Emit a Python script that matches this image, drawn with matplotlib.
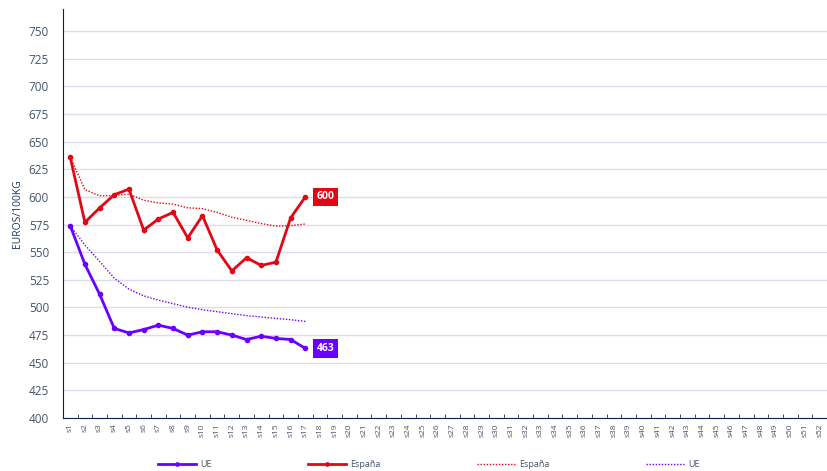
import numpy as np
import matplotlib
matplotlib.use("Agg")
import matplotlib.pyplot as plt

plt.rcParams["font.family"] = ["Open Sans", "DejaVu Sans"]

# weeks s1..s52
weeks = [f"s{i}" for i in range(1, 53)]

# weekly prices, EUR/100kg
ue = [574, 539, 512, 481, 477, 480, 484, 481, 475, 478, 478, 475, 471, 474, 472, 471, 463]
espana = [636, 577, 590, 602, 607, 570, 580, 586, 563, 583, 552, 533, 545, 538, 541, 581, 600]

# running average curves (dotted)
espana_avg = [636, 606.5, 601, 601.3, 602.4, 597, 594.6, 593.5, 590.1, 589.4, 586, 581.6, 578.8, 575.9, 573.5, 574, 575.5]
ue_avg = [574, 556.5, 541.7, 526.5, 516.6, 510.5, 506.6, 503.4, 500.2, 498, 496.2, 494.4, 492.6, 491.4, 490.1, 488.9, 487.4]

RED = "#E30613"
PURPLE = "#6A00FF"
TXT = "#44546A"
NAVY = "#0F1F4F"

fig = plt.figure(figsize=(8.27, 4.71), dpi=100)
ax = fig.add_axes([0.076, 0.1125, 0.924, 0.8685])

x = np.arange(len(ue))
ax.plot(x, ue, color=PURPLE, lw=2, marker="o", ms=3, label="UE", zorder=4)
ax.plot(x, espana, color=RED, lw=2, marker="o", ms=3, label="España", zorder=4)
ax.plot(x, espana_avg, color=RED, lw=1, ls=(0, (1, 1.2)), label="España", zorder=3)
ax.plot(x, ue_avg, color=PURPLE, lw=1, ls=(0, (1, 1.2)), label="UE", zorder=3)

# value boxes at last point
for vals, col in [(espana, RED), (ue, PURPLE)]:
    ax.annotate(f"{vals[-1]}", (x[-1], vals[-1]), xytext=(8, 0), textcoords="offset points",
                va="center", ha="left", color="white", fontsize=7.5, fontweight="bold",
                bbox=dict(boxstyle="square,pad=0.35", fc=col, ec="none"))

ax.set_xlim(-0.5, 51.5)
ax.set_ylim(400, 770)
ax.set_yticks(np.arange(400, 751, 25))
ax.set_xticks(np.arange(52))
ax.set_xticklabels(weeks, rotation=90, fontsize=6, color=TXT)
ax.set_xticks(np.arange(52) + 0.5, minor=True)
ax.tick_params(axis="x", which="major", length=0, pad=4)
ax.tick_params(axis="x", which="minor", direction="in", length=3, color=NAVY)
ax.tick_params(axis="y", length=0, labelsize=8.5, labelcolor=TXT, pad=10)
ax.grid(axis="y", color="#DCDCEA", lw=1)
ax.set_axisbelow(True)
for s in ["top", "right"]:
    ax.spines[s].set_visible(False)
ax.spines["left"].set_color(NAVY)
ax.spines["bottom"].set_color(NAVY)
ax.set_ylabel("EUROS/100KG", fontsize=7.5, color="#1F3864", labelpad=4)

fig.legend(loc="lower left", bbox_to_anchor=(0.181, -0.014, 0.675, 0.04), mode="expand",
           ncol=4, frameon=False, fontsize=6.5, labelcolor=TXT, handlelength=4.2,
           handletextpad=0.5, markerscale=0.8)

fig.savefig("out.png", dpi=100)
